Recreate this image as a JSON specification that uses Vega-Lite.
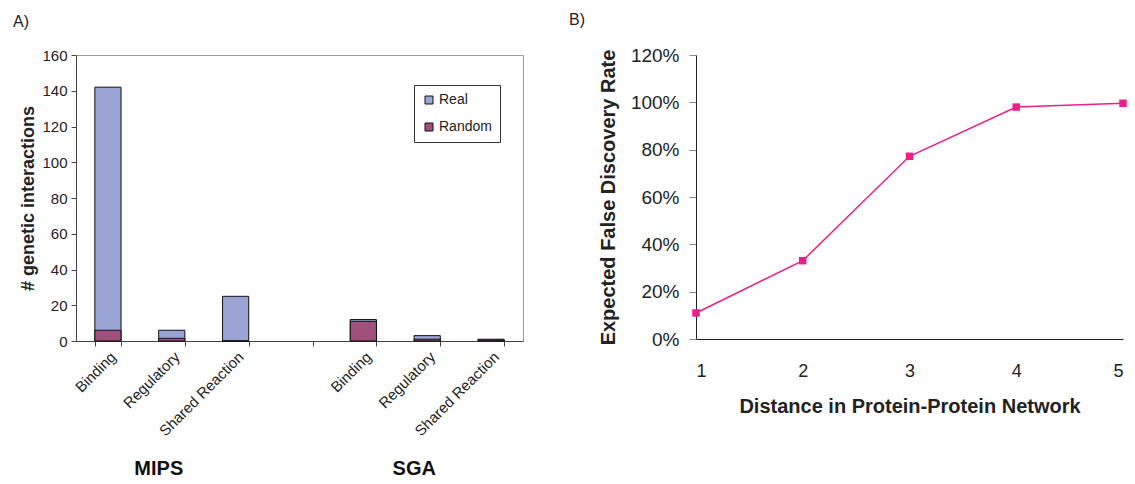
{
  "$schema": "https://vega.github.io/schema/vega-lite/v6.json",
  "background": "white",
  "padding": {"left": 12, "top": 12, "right": 5, "bottom": 5},
  "bounds": "flush",
  "spacing": 173,
  "config": {
    "font": "Liberation Sans",
    "view": {"stroke": null},
    "axis": {"grid": false, "labelColor": "#222", "titleColor": "#222", "domainColor": "#222", "tickColor": "#444", "labelFont": "Liberation Sans", "titleFont": "Liberation Sans"},
    "title": {"font": "Liberation Sans", "fontWeight": "normal", "fontSize": 16, "color": "#222", "anchor": "start", "frame": "group"}
  },
  "hconcat": [
    {
      "width": 447,
      "height": 286,
      "title": {"text": "A)", "dx": -63, "offset": 18},
      "view": {"stroke": "#9a9a9a", "strokeWidth": 1},
      "data": {"values": [
        {"slot": "MIPS|Binding", "series": "Real", "count": 142},
        {"slot": "MIPS|Binding", "series": "Random", "count": 6},
        {"slot": "MIPS|Regulatory", "series": "Real", "count": 6},
        {"slot": "MIPS|Regulatory", "series": "Random", "count": 1.5},
        {"slot": "MIPS|Shared Reaction", "series": "Real", "count": 25},
        {"slot": "MIPS|Shared Reaction", "series": "Random", "count": 0},
        {"slot": "SGA|Binding", "series": "Real", "count": 12},
        {"slot": "SGA|Binding", "series": "Random", "count": 11},
        {"slot": "SGA|Regulatory", "series": "Real", "count": 3},
        {"slot": "SGA|Regulatory", "series": "Random", "count": 1},
        {"slot": "SGA|Shared Reaction", "series": "Real", "count": 1},
        {"slot": "SGA|Shared Reaction", "series": "Random", "count": 0.5}
      ]},
      "encoding": {
        "y": {
          "field": "count", "type": "quantitative", "stack": null,
          "scale": {"domain": [0, 160], "nice": false},
          "axis": {"title": "# genetic interactions", "titleFontSize": 18, "titleFontWeight": "bold", "values": [0, 20, 40, 60, 80, 100, 120, 140, 160], "labelFontSize": 15, "tickSize": 5, "labelPadding": 4, "titlePadding": 4, "domainColor": "#444"}
        },
        "color": {
          "field": "series", "type": "nominal",
          "scale": {"domain": ["Real", "Random"], "range": ["#9BA5D5", "#A0507A"]},
          "legend": {"title": null, "orient": "none", "legendX": 338, "legendY": 30, "symbolType": "square", "symbolSize": 64, "symbolStrokeColor": "#111", "symbolStrokeWidth": 1, "labelFontSize": 14, "labelColor": "#222", "strokeColor": "#333", "fillColor": "white", "padding": 8, "rowPadding": 13, "labelOffset": 3}
        }
      },
      "layer": [
        {
          "transform": [{"filter": "datum.series == 'Real'"}],
          "mark": {"type": "bar", "stroke": "#111", "strokeWidth": 1},
          "encoding": {
            "x": {
              "field": "slot", "type": "nominal",
              "scale": {"domain": ["MIPS|Binding", "MIPS|Regulatory", "MIPS|Shared Reaction", "gap|", "SGA|Binding", "SGA|Regulatory", "SGA|Shared Reaction"], "paddingInner": 0.59, "paddingOuter": 0.295},
              "axis": {"orient": "bottom", "title": null, "labelAngle": -45, "labelFontSize": 15, "tickBand": "extent", "tickSize": 5, "labelExpr": "split(datum.value, '|')[1]", "domainColor": "#444", "labelPadding": 3}
            }
          }
        },
        {
          "transform": [{"filter": "datum.series == 'Random'"}],
          "mark": {"type": "bar", "stroke": "#111", "strokeWidth": 1},
          "encoding": {
            "x": {
              "field": "slot", "type": "nominal",
              "scale": {"domain": ["MIPS|Binding", "MIPS|Regulatory", "MIPS|Shared Reaction", "gap|", "SGA|Binding", "SGA|Regulatory", "SGA|Shared Reaction"], "paddingInner": 0.59, "paddingOuter": 0.295},
              "axis": {"orient": "bottom", "title": null, "ticks": false, "domain": false, "labelAngle": 0, "labelFontSize": 20, "labelFontWeight": "bold", "labelColor": "#111", "labelExpr": "datum.value == 'MIPS|Regulatory' ? 'MIPS' : datum.value == 'SGA|Regulatory' ? 'SGA' : ''", "offset": 117, "labelPadding": 0, "labelOffset": -13}
            }
          }
        }
      ],
      "resolve": {"axis": {"x": "independent"}}
    },
    {
      "width": 427,
      "height": 284,
      "title": {"text": "B)", "dx": -127, "offset": 18},
      "data": {"values": [
        {"distance": 1, "fdr": 0.11},
        {"distance": 2, "fdr": 0.331},
        {"distance": 3, "fdr": 0.772},
        {"distance": 4, "fdr": 0.98},
        {"distance": 5, "fdr": 0.996}
      ]},
      "encoding": {
        "x": {
          "field": "distance", "type": "quantitative",
          "scale": {"domain": [1, 5], "nice": false, "zero": false},
          "axis": {"values": [1, 2, 3, 4, 5], "ticks": false, "labelFontSize": 18, "labelPadding": 23, "title": "Distance in Protein-Protein Network", "titleFontSize": 20, "titleFontWeight": "bold", "titlePadding": 16, "domainColor": "#222"}
        },
        "y": {
          "field": "fdr", "type": "quantitative",
          "scale": {"domain": [0, 1.2], "nice": false},
          "axis": {"format": ".0%", "values": [0, 0.2, 0.4, 0.6, 0.8, 1.0, 1.2], "labelFontSize": 19, "tickSize": 7, "tickColor": "#888", "labelPadding": 10, "title": "Expected False Discovery Rate", "titleFontSize": 20, "titleFontWeight": "bold", "titlePadding": 12, "domainColor": "#222"}
        }
      },
      "layer": [
        {"mark": {"type": "line", "color": "#EC1E8C", "strokeWidth": 1.5}},
        {"mark": {"type": "point", "shape": "square", "filled": true, "size": 56, "color": "#EC1E8C", "opacity": 1}}
      ]
    }
  ]
}
